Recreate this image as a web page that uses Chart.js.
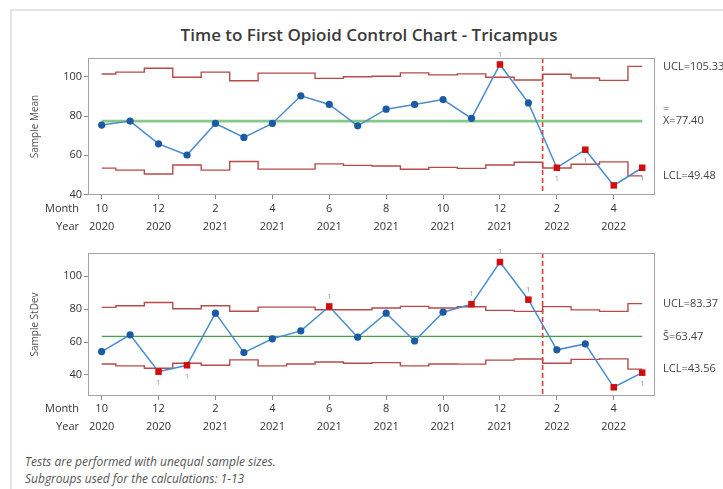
<!DOCTYPE html>
<html>
<head>
<meta charset="utf-8">
<script src="https://cdn.jsdelivr.net/npm/chart.js@4.4.1/dist/chart.umd.min.js"></script>
<style>
  html, body { margin: 0; padding: 0; background: #fff; }
  #page { position: relative; width: 723px; height: 489px; overflow: hidden;
          font-family: "Open Sans", "Noto Sans", sans-serif; }
  #frame { position: absolute; left: 10px; top: 9px; width: 720px; height: 490px;
           border-left: 2px solid #e3e3e3; border-top: 2px solid #e3e3e3; }
  #title { position: absolute; left: 0; top: 23px; width: 738px; text-align: center;
           font-size: 17px; font-weight: 600; color: #3b3b3b; line-height: 23px; }
  canvas { position: absolute; left: 0; }
  #foot { position: absolute; left: 25px; top: 453px; font-size: 12px; font-style: italic;
          color: #555; line-height: 17px; }
</style>
</head>
<body>
<div id="page">
  <div id="frame"></div>
  <div id="title">Time to First Opioid Control Chart - Tricampus</div>
  <canvas id="meanChart" width="723" height="200" style="top:40px"></canvas>
  <canvas id="sdChart" width="723" height="200" style="top:240px"></canvas>
  <div id="foot">Tests are performed with unequal sample sizes.<br>Subgroups used for the calculations: 1-13</div>
</div>
<script>
// Subgroups: one per month, Oct 2020 – May 2022
const months = [10, 11, 12, 1, 2, 3, 4, 5, 6, 7, 8, 9, 10, 11, 12, 1, 2, 3, 4, 5];
const years = [2020, 2020, 2020, 2021, 2021, 2021, 2021, 2021, 2021, 2021, 2021, 2021, 2021, 2021, 2021,
               2022, 2022, 2022, 2022, 2022];
const monthTicks = [0, 2, 4, 6, 8, 10, 12, 14, 16, 18];
const stageBreak = 15.5;

// Xbar chart
const sampleMean = [75.4, 77.4, 65.8, 60.1, 76.2, 69.1, 76.2, 90.3, 85.9, 75.0,
                    83.5, 85.9, 88.4, 78.8, 106.3, 86.7, 53.6, 62.8, 44.6, 53.6];
const meanUCL = [101.4, 102.4, 104.4, 99.8, 102.4, 98.0, 101.9, 101.9, 99.2, 100.0,
                 100.3, 102.0, 101.0, 101.5, 99.8, 98.4, 101.3, 99.4, 98.2, 105.33];
const meanLCL = [53.4, 52.4, 50.4, 55.0, 52.4, 56.8, 52.9, 52.9, 55.6, 54.8,
                 54.5, 52.8, 53.8, 53.3, 55.0, 56.4, 53.5, 55.4, 56.6, 49.48];
const meanCentre = 77.40;
const meanTests = [0, 0, 0, 0, 0, 0, 0, 0, 0, 0, 0, 0, 0, 0, 1, 0, 1, 1, 1, 1];
const meanTicks = [40, 60, 80, 100];

// S chart
const sampleStDev = [54.2, 64.4, 42.0, 45.9, 77.6, 53.6, 62.0, 66.8, 81.7, 63.0,
                     77.6, 60.7, 78.2, 83.1, 108.7, 85.8, 55.3, 58.9, 32.5, 41.4];
const sdUCL = [81.1, 82.1, 84.1, 80.3, 82.1, 78.8, 81.3, 81.3, 79.7, 79.7,
               80.7, 81.7, 80.7, 81.5, 79.3, 78.7, 81.6, 79.6, 78.7, 83.37];
const sdLCL = [46.7, 45.5, 44.1, 47.1, 45.9, 49.2, 45.5, 46.7, 47.9, 47.1,
               47.5, 45.5, 46.7, 46.6, 49.0, 49.7, 47.1, 49.5, 49.8, 43.56];
const sdCentre = 63.47;
const sdTests = [0, 0, 1, 1, 0, 0, 0, 0, 1, 0, 0, 0, 0, 1, 1, 1, 0, 0, 1, 1];
const sdTicks = [40, 60, 80, 100];

const FONT = '"Open Sans", "Noto Sans", sans-serif';
const pts = arr => arr.map((v, i) => ({ x: i, y: v }));

// Frame, stage divider, test markers and limit annotations
const annotate = {
  id: 'annotate',
  beforeDatasetsDraw(chart, args, o) {
    const { ctx, chartArea: a, scales: { x } } = chart;
    const px = x.getPixelForValue(stageBreak);
    ctx.save();
    ctx.strokeStyle = '#d8403c';
    ctx.lineWidth = 1.6;
    ctx.setLineDash([5, 3]);
    ctx.beginPath();
    ctx.moveTo(px, a.top);
    ctx.lineTo(px, a.bottom);
    ctx.stroke();
    ctx.restore();
  },
  afterDatasetsDraw(chart, args, o) {
    const { ctx, chartArea: a, scales: { x, y } } = chart;
    ctx.save();
    // plot frame
    ctx.strokeStyle = '#a3a3a3';
    ctx.lineWidth = 1;
    ctx.strokeRect(Math.round(a.left) + 0.5, Math.round(a.top) + 0.5,
                   Math.round(a.width) - 1, Math.round(a.height) - 1);

    // failed test numbers next to flagged subgroups
    ctx.fillStyle = '#9a9a9a';
    ctx.font = '8px ' + FONT;
    ctx.textAlign = 'center';
    ctx.textBaseline = 'middle';
    o.tests.forEach((t, i) => {
      if (!t) return;
      const above = o.values[i] > o.centre;
      const py = y.getPixelForValue(o.values[i]) + (above ? -10 : 11);
      if (py > a.bottom) return;
      ctx.fillText(String(t), x.getPixelForValue(i), py);
    });

    // limit labels on the right
    const last = o.values.length - 1;
    const lx = a.right + 8;
    ctx.fillStyle = '#444';
    ctx.font = '11px ' + FONT;
    ctx.textAlign = 'left';
    ctx.fillText('UCL=' + o.ucl[last].toFixed(2), lx, y.getPixelForValue(o.ucl[last]));
    ctx.fillText('LCL=' + o.lcl[last].toFixed(2), lx, y.getPixelForValue(o.lcl[last]));
    const cy = y.getPixelForValue(o.centre);
    if (o.symbol === 'X') {
      ctx.fillText('=', lx, cy - 12);
      ctx.fillText('X=' + o.centre.toFixed(2), lx, cy);
    } else {
      ctx.fillText('S\u0304=' + o.centre.toFixed(2), lx, cy);
    }

    // axis title
    ctx.fillStyle = '#555';
    ctx.font = '10px ' + FONT;
    ctx.textAlign = 'center';
    ctx.translate(35, (a.top + a.bottom) / 2);
    ctx.rotate(-Math.PI / 2);
    ctx.fillText(o.title, 0, 0);
    ctx.restore();

    // row captions for the two-line x labels
    ctx.save();
    ctx.fillStyle = '#333';
    ctx.font = '11px ' + FONT;
    ctx.textAlign = 'right';
    ctx.textBaseline = 'middle';
    const r1 = a.bottom + o.rowOffset;
    ctx.fillText('Month', 79, r1);
    ctx.fillText('Year', 79, r1 + 18);
    ctx.restore();
  }
};

function panel(id, o) {
  const flagged = o.tests.map(t => t > 0);
  const last = o.values.length - 1;
  const gridStyle = { drawOnChartArea: false, drawTicks: true, tickLength: 4, color: '#8a8a8a' };
  return new Chart(document.getElementById(id), {
    type: 'line',
    data: {
      datasets: [
        {
          data: pts(o.values),
          borderColor: '#4b8ccd',
          borderWidth: 1.5,
          pointStyle: c => flagged[c.dataIndex] ? 'rect' : 'circle',
          pointRadius: c => flagged[c.dataIndex] ? 4.6 : 3.6,
          pointBackgroundColor: c => flagged[c.dataIndex] ? '#d10d0d' : '#1b5aa4',
          pointBorderColor: c => flagged[c.dataIndex] ? '#d10d0d' : '#1b5aa4',
          pointBorderWidth: 0
        },
        { data: pts(o.ucl), stepped: 'middle', borderColor: '#b74a4a', borderWidth: 1.4, pointRadius: 0 },
        { data: pts(o.lcl), stepped: 'middle', borderColor: '#b74a4a', borderWidth: 1.4, pointRadius: 0 },
        {
          data: [{ x: 0, y: o.centre }, { x: last, y: o.centre }],
          borderColor: o.centreColor, borderWidth: o.centreWidth, pointRadius: 0
        }
      ]
    },
    options: {
      responsive: false,
      animation: false,
      devicePixelRatio: 1,
      layout: { padding: { left: 0, right: 68, top: o.padTop, bottom: 0 } },
      plugins: { legend: { display: false }, tooltip: { enabled: false }, annotate: o },
      scales: {
        x: {
          type: 'linear', min: -0.48, max: 19.45,
          afterBuildTicks: s => { s.ticks = monthTicks.map(v => ({ value: v })); },
          afterFit: s => { s.height = o.xHeight; },
          grid: gridStyle,
          border: { display: false },
          ticks: {
            autoSkip: false, maxRotation: 0, padding: o.xPad, color: '#333',
            font: { size: 11, family: FONT, lineHeight: 1.64 },
            callback: v => [String(months[v]), String(years[v])]
          }
        },
        y: {
          min: o.yMin, max: o.yMax,
          afterBuildTicks: s => { s.ticks = o.yTicks.map(v => ({ value: v })); },
          afterFit: s => { s.width = 88; },
          grid: gridStyle,
          border: { display: false },
          ticks: { padding: 2, color: '#333', font: { size: 11, family: FONT } }
        }
      }
    },
    plugins: [annotate]
  });
}

panel('meanChart', {
  values: sampleMean, ucl: meanUCL, lcl: meanLCL, centre: meanCentre, tests: meanTests,
  yTicks: meanTicks, yMin: 39.7, yMax: 109.6, symbol: 'X', title: 'Sample Mean',
  centreColor: '#86c886', centreWidth: 2.6, padTop: 18, xHeight: 45, xPad: 1, rowOffset: 14
});

panel('sdChart', {
  values: sampleStDev, ucl: sdUCL, lcl: sdLCL, centre: sdCentre, tests: sdTests,
  yTicks: sdTicks, yMin: 27.2, yMax: 114.2, symbol: 'S', title: 'Sample StDev',
  centreColor: '#46a046', centreWidth: 1.4, padTop: 13, xHeight: 44, xPad: 0, rowOffset: 13
});
</script>
</body>
</html>
